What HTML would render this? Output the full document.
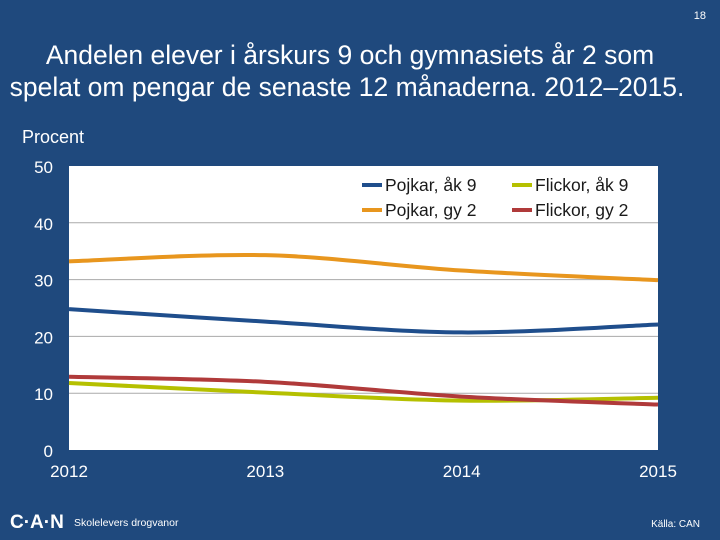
<!DOCTYPE html>
<html><head><meta charset="utf-8"><style>
body{margin:0;width:720px;height:540px;background:#1f497d;font-family:"Liberation Sans",sans-serif;overflow:hidden}
svg{position:absolute;left:0;top:0}
</style></head><body>
<svg width="720" height="540">
<text x="706" y="19" font-size="11" fill="#fff" text-anchor="end">18</text>
<text x="350" y="64" font-size="26.5" fill="#fff" text-anchor="middle">Andelen elever i årskurs 9 och gymnasiets år 2 som</text>
<text x="347" y="96" font-size="26.5" fill="#fff" text-anchor="middle">spelat om pengar de senaste 12 månaderna.  2012–2015.</text>
<text x="22" y="143" font-size="18" fill="#fff">Procent</text>
<rect x="69" y="166" width="589" height="284" fill="#fff"/>
<g id="grid"></g><g id="lines"></g><g id="labels"></g>
<g font-size="17.5" fill="#1a1a1a">
<line x1="362" y1="185" x2="382" y2="185" stroke="#1f4e8c" stroke-width="4"/><text x="385" y="191">Pojkar, åk 9</text>
<line x1="512" y1="185" x2="532" y2="185" stroke="#b5c000" stroke-width="4"/><text x="535" y="191">Flickor, åk 9</text>
<line x1="362" y1="210" x2="382" y2="210" stroke="#e8961e" stroke-width="4"/><text x="385" y="216">Pojkar, gy 2</text>
<line x1="512" y1="210" x2="532" y2="210" stroke="#b03a3a" stroke-width="4"/><text x="535" y="216">Flickor, gy 2</text>
</g>
<text x="10" y="528" font-size="19" font-weight="bold" fill="#fff">C·A·N</text>
<text x="74" y="526" font-size="10.5" fill="#fff">Skolelevers drogvanor</text>
<text x="700" y="527" font-size="10" fill="#fff" text-anchor="end">Källa: CAN</text>
</svg>
<script>
const years=["2012","2013","2014","2015"];
const yTicks=[0,10,20,30,40,50];
const pojkarAk9=[24.8,22.6,20.7,22.1];
const pojkarGy2=[33.2,34.3,31.6,29.9];
const flickorAk9=[11.8,10.1,8.7,9.2];
const flickorGy2=[12.9,12.0,9.4,8.0];
const NS="http://www.w3.org/2000/svg";
const x=i=>69+i*(589/(years.length-1));
const y=v=>450-v*5.68;
const grid=document.getElementById('grid'),lab=document.getElementById('labels'),lines=document.getElementById('lines');
yTicks.forEach(t=>{
 if(t>0&&t<50){const l=document.createElementNS(NS,'line');
 l.setAttribute('x1',69);l.setAttribute('x2',658);l.setAttribute('y1',y(t));l.setAttribute('y2',y(t));l.setAttribute('stroke','#aaa');
 
 grid.appendChild(l);}
 const tx=document.createElementNS(NS,'text');tx.textContent=t;
 tx.setAttribute('x',53);tx.setAttribute('y',y(t)+7);tx.setAttribute('font-size','17');tx.setAttribute('fill','#fff');tx.setAttribute('text-anchor','end');
 
 lab.appendChild(tx);
});
years.forEach((yr,i)=>{
 const tx=document.createElementNS(NS,'text');tx.textContent=yr;
 tx.setAttribute('x',x(i));tx.setAttribute('y',477);tx.setAttribute('font-size','17');tx.setAttribute('fill','#fff');tx.setAttribute('text-anchor','middle');
 
 lab.appendChild(tx);
});
function path(vals){
 const p=vals.map((v,i)=>[x(i),y(v)]);let d=`M${p[0][0]},${p[0][1]}`;
 for(let i=0;i<p.length-1;i++){const p0=p[i-1]||p[i],p1=p[i],p2=p[i+1],p3=p[i+2]||p2;
  const c1=[p1[0]+(p2[0]-p0[0])/6,p1[1]+(p2[1]-p0[1])/6],c2=[p2[0]-(p3[0]-p1[0])/6,p2[1]-(p3[1]-p1[1])/6];
  d+=` C${c1[0]},${c1[1]} ${c2[0]},${c2[1]} ${p2[0]},${p2[1]}`;}
 return d;}
[[flickorAk9,'#b5c000','line-flickor-ak9'],[flickorGy2,'#b03a3a','line-flickor-gy2'],[pojkarAk9,'#1f4e8c','line-pojkar-ak9'],[pojkarGy2,'#e8961e','line-pojkar-gy2']].forEach(s=>{
 const p=document.createElementNS(NS,'path');p.setAttribute('d',path(s[0]));p.setAttribute('fill','none');p.setAttribute('stroke',s[1]);p.setAttribute('stroke-width','4');
 
 lines.appendChild(p);
});
</script>
</body></html>
